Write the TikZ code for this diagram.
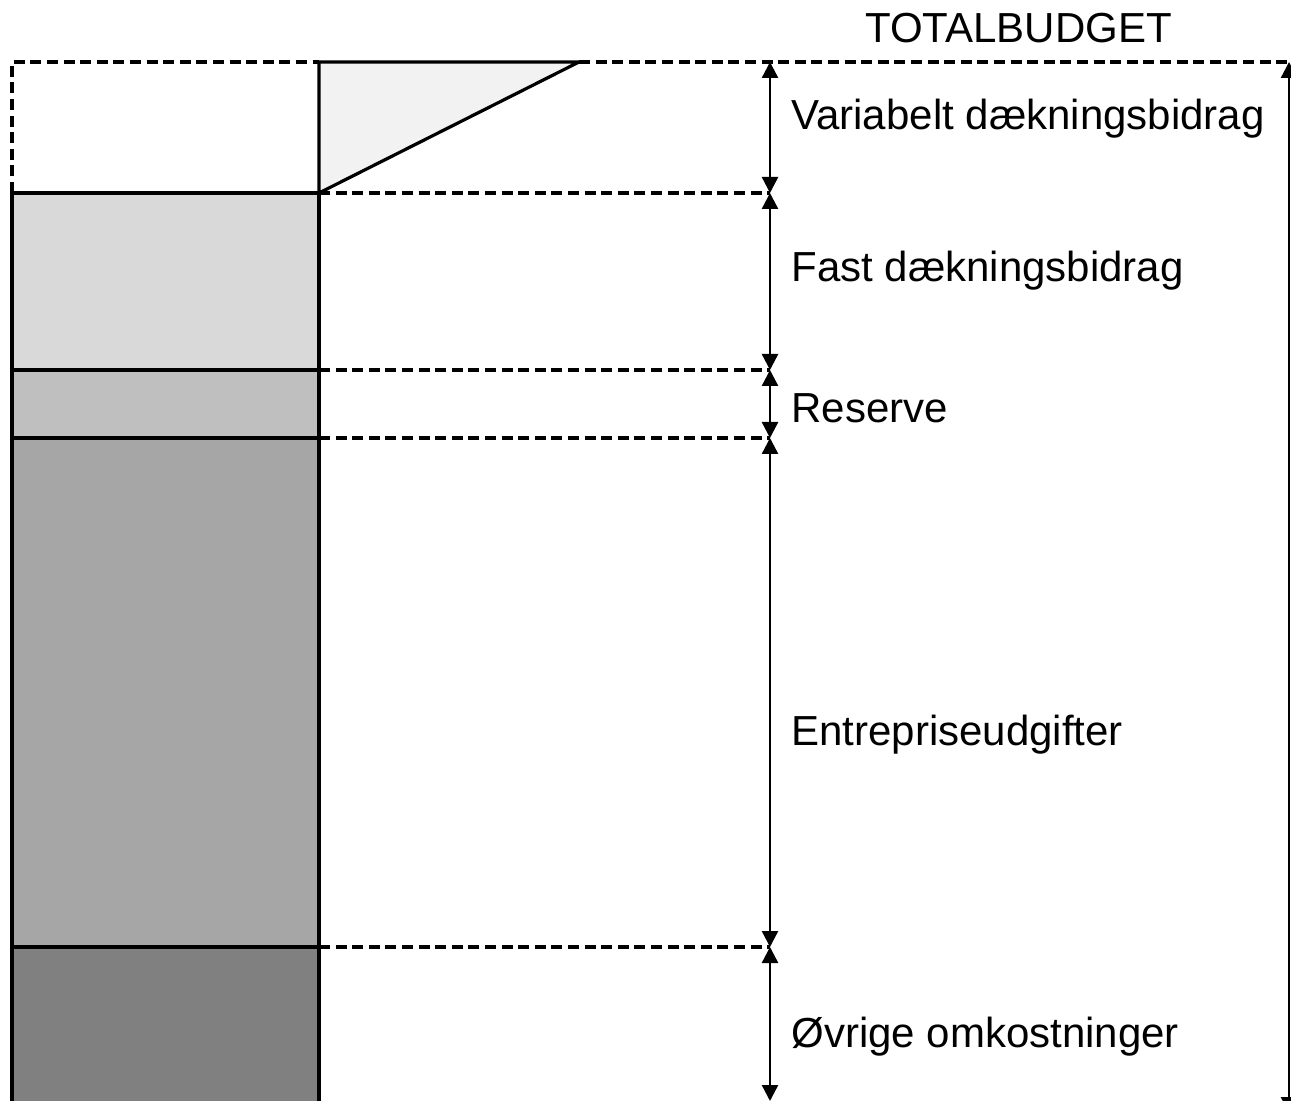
\documentclass[tikz,border=0pt]{standalone}
\usepackage{fontspec}
\setmainfont{Liberation Sans}
\usetikzlibrary{arrows.meta}
\definecolor{triFill}{HTML}{F2F2F2}
\definecolor{segA}{HTML}{D9D9D9}
\definecolor{segB}{HTML}{BFBFBF}
\definecolor{segC}{HTML}{A6A6A6}
\definecolor{segD}{HTML}{808080}
\tikzset{
  outline/.style={draw=black, line width=1.6pt},
  guide/.style={draw=black, line width=1.7pt, dash pattern=on 5.5pt off 2.8pt},
  dim/.style={draw=black, line width=1.2pt, {Triangle[length=8pt,width=8pt]}-{Triangle[length=8pt,width=8pt]}},
  lbl/.style={anchor=base west, inner sep=0pt, font=\fontsize{21pt}{25pt}\selectfont}
}
\begin{document}
\begin{tikzpicture}[x=0.5pt,y=-0.5pt]
\useasboundingbox (0,0) rectangle (1291,1101);
\clip (0,0) rectangle (1291,1101);
% key coordinates
\coordinate (tl) at (12,62);
\coordinate (tr) at (1289,62);
\coordinate (b0) at (12,193);
\coordinate (b0r) at (319,193);
\coordinate (b1) at (12,370);
\coordinate (b1r) at (319,370);
\coordinate (b2) at (12,438);
\coordinate (b2r) at (319,438);
\coordinate (b3) at (12,947);
\coordinate (b3r) at (319,947);
\coordinate (b4) at (12,1110);
\coordinate (b4r) at (319,1110);
\coordinate (t1) at (319,62);
\coordinate (t2) at (579,62);
% arrow ends
\coordinate (a0) at (770,62);
\coordinate (a1) at (770,193);
\coordinate (a2) at (770,370);
\coordinate (a3) at (770,438);
\coordinate (a4) at (770,947);
\coordinate (a5) at (770,1101);
\coordinate (r0) at (1289,62);
\coordinate (r1) at (1289,1113);
% bar segments
\filldraw[outline, fill=segA] (b0) rectangle (b1r);
\filldraw[outline, fill=segB] (b1) rectangle (b2r);
\filldraw[outline, fill=segC] (b2) rectangle (b3r);
\filldraw[outline, fill=segD] (b3) rectangle (b4r);
% triangle
\filldraw[outline, fill=triFill, line join=miter] (t1) -- (t2) -- (b0r) -- cycle;
% dashed guides
\draw[guide] (b0) -- (tl) -- (t1);
\draw[guide] (t2) -- (tr);
\draw[guide] (b0r) -- (a1);
\draw[guide] (b1r) -- (a2);
\draw[guide] (b2r) -- (a3);
\draw[guide] (b3r) -- (a4);
% dimension arrows
\draw[dim] (a0) -- (a1);
\draw[dim] (a1) -- (a2);
\draw[dim] (a2) -- (a3);
\draw[dim] (a3) -- (a4);
\draw[dim] (a4) -- (a5);
\draw[dim] (r0) -- (r1);
% labels
\node[lbl] (total) at (865,43) {TOTALBUDGET};
\node[lbl] (var) at (791,130) {Variabelt dækningsbidrag};
\node[lbl] (fast) at (791,282) {Fast dækningsbidrag};
\node[lbl] (res) at (791,423) {Reserve};
\node[lbl] (entr) at (791,745) {Entrepriseudgifter};
\node[lbl] (ovr) at (791,1047) {Øvrige omkostninger};
\end{tikzpicture}
\end{document}
